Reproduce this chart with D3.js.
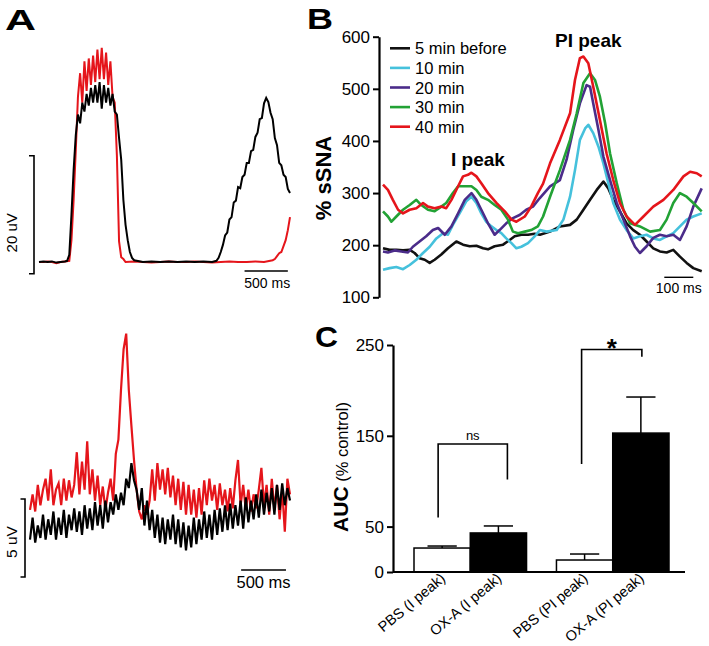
<!DOCTYPE html>
<html><head><meta charset="utf-8">
<script src="https://cdn.jsdelivr.net/npm/d3@7"></script>
<style>
body{margin:0;background:#fff}
svg{display:block}
text{font-family:"Liberation Sans",Arial,Helvetica,sans-serif}
</style>
</head><body>
<svg id="c" width="709" height="646"></svg>
<script>
// ---------------- DATA ----------------
// Panel A (top): averaged traces, [ms, uV]
const aTopBlack = [[0,0],[50,0.1],[100,0],[150,0.1],[200,-0.1],[250,0],[300,0.1],[325,0.2],[350,1.2],[375,8],[400,15.6],[425,21.5],[450,25],[475,23.5],[500,27],[525,25.5],[550,28.5],[575,26.5],[600,29.5],[625,27],[650,30],[675,27],[700,30.5],[725,26],[750,30],[775,27],[800,29.5],[825,26.5],[850,28.5],[875,25.5],[900,25],[925,21],[950,17.3],[975,10.5],[1000,6.3],[1025,3.7],[1050,1.7],[1075,0.7],[1100,0.3],[1200,0],[1300,0.1],[1400,0],[1500,0.1],[1600,0],[1700,0.1],[1800,0],[1900,0.1],[2000,0],[2050,0.2],[2075,0.7],[2100,1.7],[2125,2.9],[2150,4.5],[2175,5.0],[2200,7.2],[2225,7.6],[2250,10.1],[2275,10.4],[2300,12.7],[2325,12.5],[2350,14.4],[2375,14.8],[2400,16.8],[2425,16.8],[2450,18.8],[2475,19.0],[2500,21.2],[2525,21.9],[2550,24.2],[2575,24.4],[2600,26.9],[2625,27.8],[2650,27.1],[2675,25.3],[2700,24.2],[2725,21.0],[2750,19.8],[2775,16.8],[2800,16.4],[2825,14.8],[2850,14.4],[2875,12.4],[2900,11.7]];
const aTopRed = [[0,0],[50,0],[100,0.1],[150,0],[200,-0.2],[250,0],[300,0.1],[350,0.2],[375,3.7],[400,10.5],[425,19],[450,28],[475,32],[500,27],[525,34],[550,29],[575,34.5],[600,30],[625,35],[650,30.5],[675,36],[700,31],[725,36.3],[750,31],[775,35.5],[800,30],[825,34],[850,28],[875,27],[900,18],[925,3.5],[950,0.8],[975,0.5],[1000,0],[1100,0.1],[1200,0],[1300,-0.1],[1400,0],[1500,0.1],[1600,0],[1700,0],[1800,0.1],[1900,0],[2000,-0.1],[2100,0],[2200,0.1],[2300,0],[2400,0],[2500,0.1],[2600,0],[2700,0.3],[2725,0.5],[2750,1],[2775,1.5],[2800,1.7],[2825,2.7],[2850,3.7],[2875,5.4],[2900,7.6]];

// Panel A (bottom): samples every 29 ms, uV
const aBotStepMs = 29;
const aBotRed = [4.3,5.3,4.2,5.9,4.6,5.6,6.3,4.9,6.9,4.6,
 5.6,6.0,4.6,6.3,4.9,6.2,5.1,5.9,8.0,5.3,
 7.4,5.6,8.7,5.3,6.9,4.9,6.5,4.6,5.8,4.3,
 5.4,6.3,4.9,7.9,8.8,12.0,14.6,15.6,12.0,9.7,
 7.5,5.6,4.2,3.7,4.6,4.0,4.9,6.9,4.9,7.3,
 5.6,6.9,5.3,7.0,5.1,6.5,4.6,6.3,4.3,6.1,
 4.0,5.9,4.0,5.6,3.8,5.7,4.0,6.2,4.6,6.3,
 4.9,5.9,4.3,6.0,4.6,5.6,4.2,5.7,4.4,6.2,
 7.5,4.6,5.9,4.3,5.6,4.2,5.3,4.4,5.6,7.0,
 4.6,5.9,4.0,6.3,4.3,5.9,3.7,5.6,2.9,6.3,
 5.3];
const aBotBlack = [2.4,3.8,2.2,3.3,2.5,4.0,2.4,3.7,2.7,4.2,
 2.4,3.8,2.7,4.3,2.5,4.0,3.0,4.4,2.9,4.2,
 2.7,4.6,3.1,4.4,3.0,4.8,3.3,4.6,3.1,4.9,
 3.5,4.8,4.0,5.3,4.3,5.4,4.6,6.3,5.7,7.3,
 6.2,5.6,4.3,5.7,3.3,4.9,3.0,4.3,2.5,4.0,
 2.2,3.8,2.1,3.7,2.4,4.0,2.1,3.7,1.9,3.5,
 1.7,3.3,1.9,3.8,2.1,3.7,2.4,4.2,2.5,4.0,
 2.4,4.3,2.7,4.4,2.9,4.6,3.0,4.7,3.1,4.6,
 3.3,4.9,3.1,5.1,3.5,4.9,3.7,5.3,3.8,5.6,
 4.0,5.4,4.2,5.7,4.0,5.9,4.3,6.0,4.6,5.7,
 4.9];

// Panel B: % sSNA, [ms, %]
const bNames = ["5 min before","10 min","20 min","30 min","40 min"];
const b5min = [[0,194],[23,191],[46,191],[69,190],[92,191],[109,185],[126,175],[144,172],[161,166],[178,172],[201,182],[224,194],[253,207],[276,201],[299,198],[322,199],[345,194],[362,192],[385,198],[414,201],[437,210],[454,217],[477,220],[500,220],[523,222],[541,220],[576,226],[610,236],[645,239],[668,249],[691,268],[714,287],[737,306],[760,322],[777,309],[794,287],[817,265],[840,242],[863,229],[886,220],[909,207],[932,194],[955,188],[978,186],[1001,191],[1024,178],[1047,166],[1070,156],[1099,150]];
const b10min = [[0,153],[23,156],[46,158],[69,154],[92,162],[115,172],[138,185],[161,197],[184,213],[207,223],[224,220],[241,239],[264,261],[287,284],[305,293],[322,281],[339,261],[356,245],[374,236],[391,229],[408,223],[425,213],[443,204],[460,194],[477,197],[500,204],[523,217],[541,229],[564,226],[599,229],[622,249],[645,293],[662,344],[679,402],[697,424],[708,431],[725,415],[743,389],[760,357],[777,319],[794,281],[817,249],[840,229],[863,213],[886,217],[909,220],[932,213],[955,210],[978,217],[1001,223],[1024,236],[1047,249],[1070,255],[1099,261]];
const b20min = [[0,188],[17,186],[40,190],[63,188],[86,186],[103,197],[126,207],[149,217],[172,229],[190,233],[213,220],[236,236],[259,261],[282,287],[305,300],[322,287],[339,268],[362,242],[385,220],[402,229],[425,242],[448,252],[471,258],[494,268],[517,274],[540,290],[576,313],[610,325],[633,364],[656,421],[679,472],[702,507],[714,504],[725,472],[743,421],[760,370],[783,325],[806,281],[829,249],[852,217],[869,197],[886,185],[909,198],[932,214],[955,220],[978,217],[1001,220],[1024,210],[1047,236],[1070,274],[1099,309]];
const b30min = [[0,265],[17,255],[29,245],[46,255],[69,268],[92,277],[115,287],[132,277],[155,268],[178,265],[201,274],[218,281],[241,300],[259,313],[282,313],[305,313],[322,306],[339,293],[362,287],[385,277],[408,268],[431,249],[448,226],[466,223],[489,226],[511,229],[534,236],[552,255],[576,293],[610,344],[645,402],[668,453],[691,511],[714,530],[731,517],[748,485],[766,434],[783,376],[806,319],[829,268],[852,242],[886,236],[921,226],[955,229],[978,249],[1001,281],[1024,300],[1047,293],[1070,281],[1099,265]];
const b40min = [[0,316],[17,306],[34,287],[52,268],[69,261],[92,268],[115,271],[138,281],[155,274],[178,271],[201,274],[218,271],[236,287],[259,313],[276,332],[293,335],[305,339],[322,332],[339,319],[362,300],[391,281],[420,265],[443,249],[460,245],[489,255],[511,274],[534,300],[552,318],[576,357],[610,402],[645,453],[662,517],[679,559],[691,562],[708,549],[725,504],[748,440],[771,376],[794,325],[817,281],[840,255],[869,239],[898,255],[932,274],[967,287],[1001,306],[1036,332],[1059,341],[1082,338],[1099,332]];
const bYTicks = [100,200,300,400,500,600];

// Panel C: AUC (% control)
const cCategories = ["PBS (I peak)","OX-A (I peak)","PBS (PI peak)","OX-A (PI peak)"];
const cGroups = ["I peak","PI peak"];
const cTreat = ["PBS","OX-A"];
const cValues = [26.4, 43, 13.2, 153];
const cErrors = [2.2, 7.7, 6.6, 39.7];
const cYTicks = [0,50,150,250];
// brackets: [leftBar, rightBar, top value, left leg bottom, right leg bottom, label]
const cBrackets = [[0,1,141,60,102,"ns"],[2,3,245,119,237,"*"]];

// ---------------- STYLES ----------------
const bColors = ["#111111","#45c1dc","#4b2c8a","#22a235","#e5151b"];
const RED = "#e5151b";

const svg = d3.select("#c");

function txt(x,y,s,size,opts){
  opts = opts||{};
  const t = svg.append("text").attr("x",x).attr("y",y).text(s)
    .attr("font-size",size).attr("fill","#000");
  if(opts.bold) t.attr("font-weight","bold");
  if(opts.anchor) t.attr("text-anchor",opts.anchor);
  if(opts.transform) t.attr("transform",opts.transform);
  if(opts.len) t.attr("textLength",opts.len).attr("lengthAdjust","spacingAndGlyphs");
  return t;
}

// ---------- Panel letters ----------
txt(5,30,"A","30px",{bold:true,len:31});
txt(307,29,"B","30px",{bold:true,len:26});
txt(315,347,"C","30px",{bold:true,len:23});

// ---------- Panel A top ----------
const xAT = d3.scaleLinear().domain([0,2900]).range([39,290]);
const yAT = d3.scaleLinear().domain([0,20]).range([262,144]);
const lAT = d3.line().x(d=>xAT(d[0])).y(d=>yAT(d[1]));
svg.append("path").attr("d",lAT(aTopRed)).attr("fill","none").attr("stroke",RED).attr("stroke-width",2);
svg.append("path").attr("d",lAT(aTopBlack)).attr("fill","none").attr("stroke","#000").attr("stroke-width",2);
// scale bars
{
  const x0 = 34, top = yAT(18), bot = yAT(-2);
  svg.append("path").attr("d",`M${x0-5},${top}H${x0}V${bot}H${x0-5}`).attr("fill","none").attr("stroke","#000").attr("stroke-width",1.6);
  txt(0,0,"20 uV","15px",{anchor:"middle",transform:`translate(16.5,${(top+bot)/2+18}) rotate(-90)`});
  const yb = 271;
  svg.append("line").attr("x1",xAT(2375)).attr("x2",xAT(2875)).attr("y1",yb).attr("y2",yb).attr("stroke","#000").attr("stroke-width",1.4);
  txt((xAT(2375)+xAT(2875))/2+1,288,"500 ms","14px",{anchor:"middle"});
}

// ---------- Panel A bottom ----------
const xAB = d3.scaleLinear().domain([0,2900]).range([30,290]);
const yAB = d3.scaleLinear().domain([0,5]).range([577,499]);
const lAB = d3.line().x((d,i)=>xAB(i*aBotStepMs)).y(d=>yAB(d));
svg.append("path").attr("d",lAB(aBotRed)).attr("fill","none").attr("stroke",RED).attr("stroke-width",2.2);
svg.append("path").attr("d",lAB(aBotBlack)).attr("fill","none").attr("stroke","#000").attr("stroke-width",2.2);
{
  const x0 = 25, top = yAB(5), bot = yAB(0);
  svg.append("path").attr("d",`M${x0-4.5},${top}H${x0}V${bot}H${x0-4.5}`).attr("fill","none").attr("stroke","#000").attr("stroke-width",1.6);
  txt(0,0,"5 uV","15.5px",{anchor:"middle",transform:`translate(16.5,${(top+bot)/2+4}) rotate(-90)`});
  const yb = 570;
  svg.append("line").attr("x1",xAB(2355)).attr("x2",xAB(2855)).attr("y1",yb).attr("y2",yb).attr("stroke","#000").attr("stroke-width",1.4);
  txt((xAB(2355)+xAB(2855))/2,588,"500 ms","16.5px",{anchor:"middle"});
}

// ---------- Panel B ----------
const xB = d3.scaleLinear().domain([0,1100]).range([383,702]);
const yB = d3.scaleLinear().domain([100,600]).range([297.3,36.7]);
const axB = svg.append("g").attr("transform","translate(379,0)")
  .call(d3.axisLeft(yB).tickValues(bYTicks).tickSize(6).tickPadding(3).tickSizeOuter(0).tickFormat(d3.format("d")));
axB.select(".domain").attr("stroke-width",2.2);
axB.selectAll(".tick line").attr("stroke-width",2);
axB.selectAll(".tick text").attr("font-size","17px").attr("font-family",'"Liberation Sans",Arial,sans-serif').attr("fill","#000");
txt(0,0,"% sSNA","22px",{bold:true,anchor:"middle",transform:"translate(330.5,178) rotate(-90)"});
const lB = d3.line().x(d=>xB(d[0])).y(d=>yB(d[1]));
const bSeries = [b5min,b10min,b20min,b30min,b40min];
bSeries.forEach((s,i)=>{
  svg.append("path").attr("d",lB(s)).attr("fill","none").attr("stroke",bColors[i]).attr("stroke-width",2.6).attr("stroke-linejoin","round");
});
// legend
bNames.forEach((n,i)=>{
  const yy = 48.3 + i*19.6;
  svg.append("line").attr("x1",390).attr("x2",410).attr("y1",yy).attr("y2",yy).attr("stroke",bColors[i]).attr("stroke-width",2.6);
  txt(415,yy+6,n,"16.5px");
});
txt(451,166,"I peak","19px",{bold:true});
txt(555,47,"PI peak","19px",{bold:true});
svg.append("line").attr("x1",xB(970)).attr("x2",xB(1070)).attr("y1",277.3).attr("y2",277.3).attr("stroke","#000").attr("stroke-width",1.4);
txt((xB(970)+xB(1070))/2,293,"100 ms","14px",{anchor:"middle"});

// ---------- Panel C ----------
const yC = d3.scaleLinear().domain([0,250]).range([572,345]);
const xG = d3.scaleBand().domain(cGroups).range([414,669]).paddingInner(0.21).paddingOuter(0);
const xT = d3.scaleBand().domain(cTreat).range([0,xG.bandwidth()]).padding(0);
const barX = i => xG(cGroups[Math.floor(i/2)]) + xT(cTreat[i%2]);
const bw = xT.bandwidth();
const axC = svg.append("g").attr("transform","translate(393,0)")
  .call(d3.axisLeft(yC).tickValues(cYTicks).tickSize(6).tickPadding(3).tickSizeOuter(0).tickFormat(d3.format("d")));
axC.select(".domain").attr("stroke-width",2.2);
axC.selectAll(".tick line").attr("stroke-width",2);
axC.selectAll(".tick text").attr("font-size","17px").attr("font-family",'"Liberation Sans",Arial,sans-serif').attr("fill","#000");
// bars
cValues.forEach((v,i)=>{
  const x = barX(i);
  const cx = x + bw/2;
  // error bar
  svg.append("line").attr("x1",cx).attr("x2",cx).attr("y1",yC(v)).attr("y2",yC(v+cErrors[i])).attr("stroke","#000").attr("stroke-width",1.5);
  svg.append("line").attr("x1",cx-bw*0.26).attr("x2",cx+bw*0.26).attr("y1",yC(v+cErrors[i])).attr("y2",yC(v+cErrors[i])).attr("stroke","#000").attr("stroke-width",1.5);
  svg.append("rect").attr("x",x).attr("y",yC(v)).attr("width",bw).attr("height",yC(0)-yC(v))
    .attr("fill", i%2===0 ? "#fff" : "#000").attr("stroke","#000").attr("stroke-width",1.5);
  txt(0,0,cCategories[i],"14.5px",{anchor:"end",transform:`translate(${cx+4},${580}) rotate(-40)`});
});
// x axis line
svg.append("line").attr("x1",393).attr("x2",685).attr("y1",yC(0)).attr("y2",yC(0)).attr("stroke","#000").attr("stroke-width",2.2);
// brackets
cBrackets.forEach((b,k)=>{
  const lx = barX(b[0]) + bw/2 + (k===0?-4:-3);
  const rx = barX(b[1]) + bw/2 + (k===0?9:1);
  svg.append("path").attr("d",`M${lx},${yC(b[3])}V${yC(b[2])}H${rx}V${yC(b[4])}`)
    .attr("fill","none").attr("stroke","#000").attr("stroke-width",1.6);
  if(b[5]==="ns") txt((lx+rx)/2,440,"ns","13px",{anchor:"middle"});
  else txt((lx+rx)/2,357,"*","26px",{anchor:"middle",bold:true});
});
// y title
svg.append("text").attr("transform","translate(348,467) rotate(-90)").attr("text-anchor","middle")
  .call(t=>{
    t.append("tspan").text("AUC").attr("font-weight","bold").attr("font-size","21px");
    t.append("tspan").text(" (% control)").attr("font-size","16.5px");
  });
</script>
</body></html>
